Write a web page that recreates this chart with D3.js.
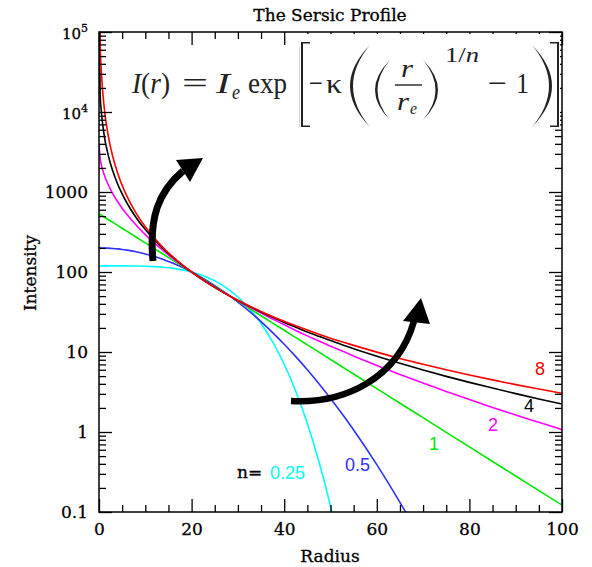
<!DOCTYPE html>
<html><head><meta charset="utf-8">
<script src="https://cdn.jsdelivr.net/npm/d3@7"></script>
<style>body{margin:0;background:#fff} svg{display:block}</style>
</head><body>
<svg id="c" width="592" height="567"></svg>
<script>
// ---- data ----
const radius = [0, 0.25, 0.5, 1, 2, 3, 4, 5, 6, 8, 10, 12, 14, 16, 18, 20, 22.5, 25, 27.5, 30, 32.5, 35, 37.5, 40, 42.5, 45, 47.5, 50, 52.5, 55, 60, 65, 70, 75, 80, 85, 90, 95, 100];
const sersicN = ["0.25", "0.5", "1", "2", "4", "8"];
const seriesColors = ["#00ffff", "#3030ff", "#00e800", "#ff00ff", "#000000", "#ff0000"];
const intensityN025 = [119.4,119.4,119.4,119.4,119.4,119.4,119.4,119.3,119.2,118.9,118.1,116.7,114.4,111.1,106.3,100,89.9,77.5,63.4,48.7,34.8,22.7,13.4,7.03,3.23,1.28,0.428,0.119,0.0267,0.0048,null,null,null,null,null,null,null,null,null];
const intensityN05 = [200,200,199.9,199.7,198.6,196.9,194.5,191.5,187.8,179.1,168.2,155.9,142.5,128.4,114.2,100,83.2,67.7,54.0,42.0,32.1,24.0,17.5,12.5,8.75,6.00,4.01,2.63,1.69,1.06,0.391,0.132,0.041,null,null,null,null,null,null];
const intensityN1 = [535.5,524.4,513.5,492.4,452.8,416.4,382.8,352.0,323.7,273.7,231.4,195.7,165.4,139.9,118.3,100,81.1,65.8,53.3,43.2,35.0,28.4,23.0,18.7,15.1,12.3,9.96,8.07,6.54,5.31,3.49,2.29,1.51,0.990,0.651,0.428,0.282,0.185,0.122];
const intensityN2 = [3933,2609,2201,1730,1232,949,761,627,526,386,293,229,182,147,121,100,80.0,64.8,53.1,43.8,36.5,30.6,25.8,21.9,18.6,15.9,13.7,11.8,10.3,8.92,6.80,5.25,4.09,3.21,2.54,2.03,1.63,1.32,1.07];
const intensityN4 = [213900,16480,10150,5696,2870,1811,1269,945,734,481,339,251,192,152,122,100,79.5,64.4,52.9,44.1,37.2,31.6,27.1,23.4,20.4,17.8,15.7,13.9,12.3,11.0,8.86,7.22,5.96,4.96,4.17,3.54,3.02,2.59,2.24];
const intensityN8 = [640000000,74200,32640,13350,5036,2733,1740,1210,893,545,367,264,198,154,123,100,79.3,64.2,52.9,44.3,37.5,32.1,27.8,24.2,21.3,18.8,16.7,14.9,13.4,12.1,9.96,8.30,7.02,5.99,5.16,4.48,3.91,3.44,3.05];
const xTicks = [0, 20, 40, 60, 80, 100];
const xTickLabels = ["0", "20", "40", "60", "80", "100"];
const yTicks = [0.1, 1, 10, 100, 1000, 1e4, 1e5];
const yTickLabels = ["0.1", "1", "10", "100", "1000", "10^4", "10^5"];

const allSeries = [intensityN025, intensityN05, intensityN1, intensityN2, intensityN4, intensityN8];

// ---- layout ----
const svg = d3.select("#c");
const P = {l: 99, r: 562, t: 32, b: 512};
const x = d3.scaleLinear().domain([0, 100]).range([P.l, P.r]);
const y = d3.scaleLog().domain([0.1, 1e5]).range([P.b, P.t]);
const serif = "DejaVu Serif";

svg.append("defs").append("clipPath").attr("id", "plot")
  .append("rect").attr("x", P.l).attr("y", P.t).attr("width", P.r - P.l).attr("height", P.b - P.t);

// curves
const line = d3.line().defined(d => d[1] != null)
  .x(d => x(d[0])).y(d => y(d[1])).curve(d3.curveMonotoneX);
const gc = svg.append("g").attr("clip-path", "url(#plot)");
allSeries.forEach((s, i) => {
  gc.append("path").datum(radius.map((r, j) => [r, s[j]]))
    .attr("d", line).attr("fill", "none").attr("stroke", seriesColors[i]).attr("stroke-width", 1.6);
});

// ticks
const xMinor = d3.range(0, 101, 5).filter(v => v % 20 !== 0);
const yMinor = [];
[0.1, 1, 10, 100, 1000, 1e4].forEach(d => { for (let k = 2; k <= 9; k++) yMinor.push(k * d); });

function axis(gen, tr, vals, size, fmt, pad) {
  const g = svg.append("g").attr("transform", tr)
    .call(gen.tickValues(vals).tickSize(size).tickSizeOuter(0).tickFormat(fmt).tickPadding(pad || 0));
  g.select(".domain").remove();
  g.selectAll("line").attr("stroke", "#000").attr("stroke-width", 1.3);
  g.attr("font-family", serif).attr("font-size", 17);
  g.selectAll("text").attr("fill", "#000").attr("stroke", "#000").attr("stroke-width", 0.3);
  return g;
}
axis(d3.axisBottom(x), `translate(0,${P.b})`, xTicks, -13, (d, i) => xTickLabels[i], 11);
axis(d3.axisBottom(x), `translate(0,${P.b})`, xMinor, -7, () => "");
axis(d3.axisTop(x), `translate(0,${P.t})`, xTicks, -13, () => "");
axis(d3.axisTop(x), `translate(0,${P.t})`, xMinor, -7, () => "");
const gL = axis(d3.axisLeft(y), `translate(${P.l},0)`, yTicks, -13, (d, i) => yTickLabels[i], 11);
axis(d3.axisLeft(y), `translate(${P.l},0)`, yMinor, -7, () => "");
axis(d3.axisRight(y), `translate(${P.r},0)`, yTicks, -13, () => "");
axis(d3.axisRight(y), `translate(${P.r},0)`, yMinor, -7, () => "");
gL.selectAll(".tick text").each(function () {
  const t = d3.select(this); const s = t.text();
  if (s.includes("^")) {
    const [b, e] = s.split("^");
    t.text(null).attr("font-size", 15).attr("dy", "0.4em");
    t.append("tspan").text(b);
    t.append("tspan").attr("font-size", 11).attr("dy", "-0.55em").text(e);
  }
});

// formula box
svg.append("rect").attr("x", 299).attr("y", 34).attr("width", 261).attr("height", 94).attr("fill", "#fff");
svg.append("line").attr("x1", 299.5).attr("x2", 299.5).attr("y1", 47).attr("y2", 127).attr("stroke", "#d8d8d8").attr("stroke-width", 1);

// frame
svg.append("rect").attr("x", P.l).attr("y", P.t).attr("width", P.r - P.l).attr("height", P.b - P.t)
  .attr("fill", "none").attr("stroke", "#000").attr("stroke-width", 1.5);

// titles
const tstyle = t => t.attr("font-family", serif).attr("font-size", 17).attr("stroke", "#000").attr("stroke-width", 0.3);
tstyle(svg.append("text").attr("x", 330).attr("y", 21).attr("text-anchor", "middle")).text("The Sersic Profile");
tstyle(svg.append("text").attr("x", 330).attr("y", 562).attr("text-anchor", "middle")).text("Radius");
tstyle(svg.append("text").attr("transform", "translate(36,273) rotate(-90)").attr("text-anchor", "middle")).text("Intensity");

// curve labels
const sans = "Liberation Sans";
svg.append("text").attr("x", 237).attr("y", 478).attr("font-family", serif).attr("font-size", 17)
  .attr("stroke", "#000").attr("stroke-width", 0.3).text("n=");
const labelPos = [[270, 479], [345, 471], [429, 450], [488, 431], [524, 412], [535, 375]];
sersicN.forEach((n, i) => {
  svg.append("text").attr("x", labelPos[i][0]).attr("y", labelPos[i][1])
    .attr("font-family", sans).attr("font-size", 18).attr("fill", seriesColors[i]).text(n);
});

// arrows
svg.append("path").attr("d", "M153,261 C149,218 158,192 183,171").attr("fill", "none").attr("stroke", "#000").attr("stroke-width", 7);
svg.append("path").attr("d", "M203,158 L176,160 L190,182 Z").attr("fill", "#000");
svg.append("path").attr("d", "M291,401 C345,404 398,378 414,321").attr("fill", "none").attr("stroke", "#000").attr("stroke-width", 6.5);
svg.append("path").attr("d", "M421,298 L403,321 L430,324 Z").attr("fill", "#000");

// formula
const fm = "Liberation Serif";
const F = svg.append("g").attr("font-family", fm).attr("fill", "#222");
function ft(xp, yp, size, parts, len) {
  const t = F.append("text").attr("x", xp).attr("y", yp).attr("font-size", size);
  if (len) t.attr("textLength", len).attr("lengthAdjust", "spacingAndGlyphs");
  parts.forEach(p => { const s = t.append("tspan").text(p[0]); if (p[1]) s.attr("font-style", "italic"); });
  return t;
}
ft(132, 93, 30, [["I", 1], ["("], ["r", 1], [")"]], 38);
ft(182, 93, 30, [["="]], 26);
ft(216, 93, 30, [["I", 1]], 14);
ft(232, 99, 20, [["e", 1]], 8);
ft(248, 93, 30, [["exp"]], 39);
ft(309, 93, 30, [["\u2212"]], 14);
ft(326, 93, 28, [["\u03ba"]], 16);
ft(401, 77, 26, [["r", 1]], 12);
ft(397, 110, 26, [["r", 1]], 12);
ft(410, 114, 16, [["e", 1]], 7);
ft(445, 62, 20, [["1/"], ["n", 1]], 34);
ft(488, 93, 30, [["\u2212"]], 19);
ft(516, 93, 30, [["1"]], 13);
F.append("line").attr("x1", 395).attr("x2", 422).attr("y1", 85).attr("y2", 85).attr("stroke", "#222").attr("stroke-width", 1.4);
const bp = [
  "M310,42 L301,42 L301,127 L310,127 L310,125.5 L303,125.5 L303,43.5 L310,43.5 Z",
  "M550,42 L559,42 L559,127 L550,127 L550,125.5 L557,125.5 L557,43.5 L550,43.5 Z",
  "M370,45 Q330,86 370,127 Q336,86 370,45 Z",
  "M532,45 Q572,86 532,127 Q566,86 532,45 Z",
  "M390,60 Q360,90 390,120 Q365,90 390,60 Z",
  "M423,60 Q453,90 423,120 Q448,90 423,60 Z"
];
bp.forEach(d => F.append("path").attr("d", d).attr("fill", "#222"));
</script>
</body></html>
